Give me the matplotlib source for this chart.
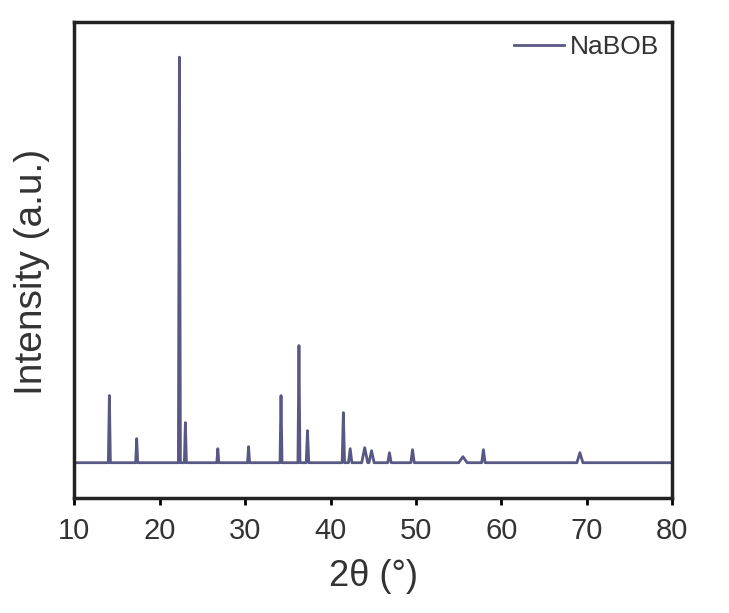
import matplotlib.pyplot as plt
import numpy as np

plt.rcParams['font.family'] = ['Liberation Sans', 'DejaVu Sans']

# peak positions (2theta, deg) and heights above baseline (a.u.)
peak_pos = [14.1, 17.3, 22.3, 23.0, 26.8, 30.4, 34.2, 36.3, 37.3, 41.5, 42.3,
            44.0, 44.8, 46.9, 49.6, 55.5, 57.9, 69.2]
peak_h = [67, 24, 405, 40, 14, 16, 67, 117, 32, 50, 14,
          15, 12, 10, 13, 6, 13, 10]
peak_w = [0.12, 0.12, 0.12, 0.12, 0.12, 0.12, 0.12, 0.12, 0.15, 0.14, 0.2,
          0.35, 0.3, 0.2, 0.2, 0.5, 0.2, 0.35]
baseline = 35

# build the trace as baseline segments with triangular peaks
xs, ys = [10.0], [baseline]
for p, h, w in zip(peak_pos, peak_h, peak_w):
    xs += [p - w, p, p + w]
    ys += [baseline, baseline + h, baseline]
xs.append(80.0)
ys.append(baseline)

fig = plt.figure(figsize=(7.29, 6.13), dpi=100)
ax = fig.add_axes([0.102, 0.188, 0.82, 0.776])
ax.plot(xs, ys, color='#585885', lw=2.0, label='NaBOB')
ax.set_xlim(10, 80)
ax.set_ylim(0, 475)
ax.set_xticks(range(10, 81, 10))
ax.set_yticks([])
ax.tick_params(axis='x', labelsize=21, length=5, width=2, direction='out',
               pad=9, labelcolor='#333333')
for s in ax.spines.values():
    s.set_linewidth(2.5)
    s.set_color('#222222')
ax.set_xlabel('2θ (°)', fontsize=26, labelpad=10, color='#333333')
ax.set_ylabel('Intensity (a.u.)', fontsize=28, color='#333333')
ax.yaxis.set_label_coords(-0.04, 0.475)
leg = ax.legend(loc='upper right', frameon=False, fontsize=19, handlelength=1.9,
                handletextpad=0.2, borderaxespad=0.1)
for t in leg.get_texts():
    t.set_color('#333333')
plt.savefig('out.png', dpi=100)
